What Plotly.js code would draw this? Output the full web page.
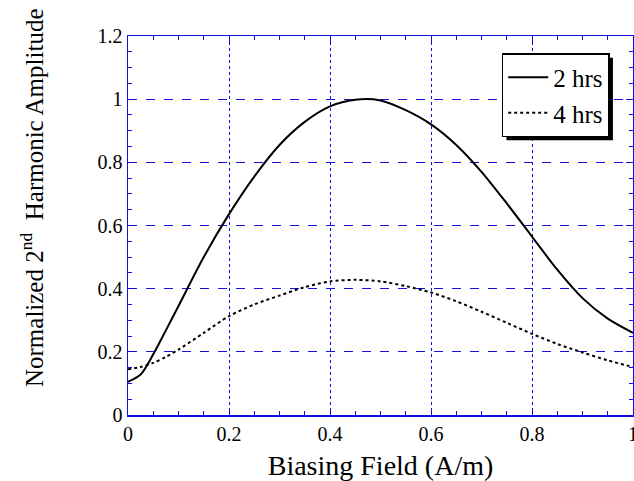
<!DOCTYPE html>
<html>
<head>
<meta charset="utf-8">
<script src="https://cdn.plot.ly/plotly-3.0.1.min.js"></script>
<style>html,body{margin:0;padding:0;background:#fff;}#chart{width:634px;height:481px;}</style>
</head>
<body>
<div id="chart"></div>
<script>
var fieldX = [0, 0.025, 0.05, 0.075, 0.1, 0.15, 0.2, 0.25, 0.3, 0.35, 0.4, 0.45, 0.5, 0.55, 0.6, 0.65, 0.7, 0.75, 0.8, 0.85, 0.9, 0.95, 1.0];
var amp2hrs = [0.105, 0.128, 0.192, 0.268, 0.345, 0.5, 0.636, 0.755, 0.855, 0.928, 0.977, 0.998, 0.996, 0.965, 0.92, 0.855, 0.77, 0.67, 0.565, 0.46, 0.37, 0.305, 0.26];
var amp4hrs = [0.145, 0.152, 0.165, 0.184, 0.207, 0.26, 0.313, 0.35, 0.378, 0.405, 0.423, 0.428, 0.423, 0.408, 0.388, 0.36, 0.327, 0.292, 0.257, 0.225, 0.198, 0.173, 0.152];
var seriesNames = ['2 hrs', '4 hrs'];
var xTickVals = [0, 0.2, 0.4, 0.6, 0.8, 1];
var xTickText = ['0', '0.2', '0.4', '0.6', '0.8', '1'];
var yTickVals = [0, 0.2, 0.4, 0.6, 0.8, 1, 1.2];
var yTickText = ['0', '0.2', '0.4', '0.6', '0.8', '1', '1.2'];
var xTitle = 'Biasing Field (A/m)';
var yTitle = 'Normalized 2<sup>nd</sup>\u00a0 Harmonic Amplitude';

var gridBlue = '#1010e0';
var serif = 'Liberation Serif';

var traces = [
  {x: fieldX, y: amp2hrs, name: seriesNames[0], mode: 'lines', line: {color: '#000', width: 2, shape: 'spline', smoothing: 0.8}},
  {x: fieldX, y: amp4hrs, name: seriesNames[1], mode: 'lines', line: {color: '#000', width: 2, dash: 'dot', shape: 'spline', smoothing: 0.8}}
];

var axisCommon = {
  showline: true, linecolor: gridBlue, linewidth: 1.5, mirror: 'allticks',
  ticks: 'inside', ticklen: 7, tickcolor: gridBlue, tickwidth: 1,
  showgrid: true, gridcolor: gridBlue, gridwidth: 1,
  zeroline: false, ticklabeloverflow: 'allow',
  tickfont: {family: serif, size: 20, color: '#000'}
};

var layout = {
  width: 634, height: 481,
  margin: {l: 128, r: 1, t: 36, b: 66},
  paper_bgcolor: '#fff', plot_bgcolor: '#fff',
  showlegend: true,
  legend: {x: 0.74, y: 0.955, xanchor: 'left', yanchor: 'top', bgcolor: '#fff', bordercolor: '#000', borderwidth: 1.5,
           font: {family: serif, size: 25, color: '#000'}, tracegroupgap: 0, itemwidth: 40},
  xaxis: Object.assign({}, axisCommon, {
    range: [0, 1], tickvals: xTickVals, ticktext: xTickText, griddash: 'dot',
    minor: {dtick: 0.05, ticks: 'inside', ticklen: 4, tickcolor: gridBlue, tickwidth: 1, showgrid: false},
    title: {text: xTitle, font: {family: serif, size: 28, color: '#000'}, standoff: 12}
  }),
  yaxis: Object.assign({}, axisCommon, {
    range: [0, 1.2], tickvals: yTickVals, ticktext: yTickText, griddash: 'dash',
    minor: {dtick: 0.05, ticks: 'inside', ticklen: 4, tickcolor: gridBlue, tickwidth: 1, showgrid: false}
  }),
  annotations: [{
    text: yTitle, xref: 'paper', yref: 'paper', x: -0.19, y: 0.5726,
    xanchor: 'center', yanchor: 'middle', textangle: -90, showarrow: false,
    font: {family: serif, size: 25, color: '#000'}
  }]
};

Plotly.newPlot('chart', traces, layout, {displayModeBar: false, staticPlot: true}).then(function(gd){
  var bg = gd.querySelector('.legend .bg');
  if (!bg) return;
  var r = bg.getBoundingClientRect();
  var c = gd.getBoundingClientRect();
  var s = gd._fullLayout._size;
  function px2x(p){ return (p - s.l) / s.w; }
  function py2y(p){ return 1 - (p - s.t) / s.h; }
  var x0 = r.left - c.left + 4, x1 = r.right - c.left + 4;
  var y0 = r.top - c.top + 4, y1 = r.bottom - c.top + 4;
  Plotly.relayout(gd, {shapes: [{type: 'rect', xref: 'paper', yref: 'paper', layer: 'above',
    x0: px2x(x0), x1: px2x(x1), y0: py2y(y1), y1: py2y(y0), fillcolor: '#000', line: {width: 0}}]});
});
</script>
</body>
</html>
